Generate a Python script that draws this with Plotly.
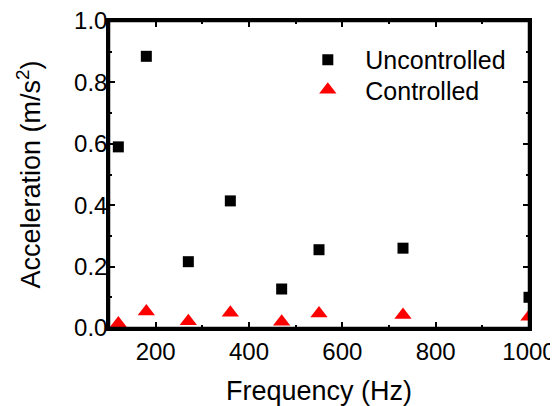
import plotly.graph_objects as go

freq = [120, 180, 270, 360, 470, 550, 730, 1000]
uncontrolled = [0.59, 0.885, 0.216, 0.414, 0.127, 0.255, 0.26, 0.10]
controlled = [0.015, 0.054, 0.022, 0.05, 0.02, 0.047, 0.042, 0.037]

FONT = "Arial, Liberation Sans, sans-serif"

fig = go.Figure()
fig.add_trace(go.Scatter(x=freq, y=uncontrolled, mode="markers", name="Uncontrolled",
                         legend="legend",
                         marker=dict(symbol="square", size=11, color="black")))
fig.add_trace(go.Scatter(x=freq, y=controlled, mode="markers", name="Controlled",
                         legend="legend2",
                         marker=dict(symbol="triangle-up", size=15, color="red")))

axis_common = dict(showline=True, linewidth=2.5, linecolor="black", mirror="ticks",
                   ticks="inside", ticklen=6, tickwidth=2, tickcolor="black",
                   showgrid=False, zeroline=False,
                   ticklabeloverflow="allow",
                   tickfont=dict(family=FONT, size=24, color="black"))

fig.update_xaxes(range=[100, 1000], tickvals=[200, 400, 600, 800, 1000],
                 minor=dict(ticks="inside", dtick=100, tick0=0, ticklen=3, tickwidth=2, tickcolor="black"),
                 title=dict(text="Frequency (Hz)", font=dict(family=FONT, size=27, color="black"), standoff=22),
                 **axis_common)
fig.update_yaxes(range=[0, 1.0], tickvals=[0, 0.2, 0.4, 0.6, 0.8, 1.0], tickformat=".1f",
                 ticklabelstandoff=-6,
                 minor=dict(ticks="inside", dtick=0.1, tick0=0, ticklen=3, tickwidth=2, tickcolor="black"),
                 title=dict(text="Acceleration (m/s<sup>2</sup>)", font=dict(family=FONT, size=27, color="black"), standoff=26),
                 **axis_common)

# frame around the plot area (all four sides)
fig.add_shape(type="rect", xref="x domain", yref="y domain", x0=0, x1=1, y0=0, y1=1,
              line=dict(color="black", width=2.5), fillcolor="rgba(0,0,0,0)", layer="above")

leg_common = dict(xanchor="left", yanchor="middle", bgcolor="rgba(0,0,0,0)",
                  font=dict(family=FONT, size=25, color="black"), itemwidth=65)

fig.update_layout(width=550, height=398, margin=dict(l=101, r=29, t=13, b=78, autoexpand=False),
                  paper_bgcolor="white", plot_bgcolor="white",
                  showlegend=True,
                  legend=dict(x=0.4317, y=0.873, **leg_common),
                  legend2=dict(x=0.4317, y=0.775, **leg_common))

fig.write_html("out.html")
